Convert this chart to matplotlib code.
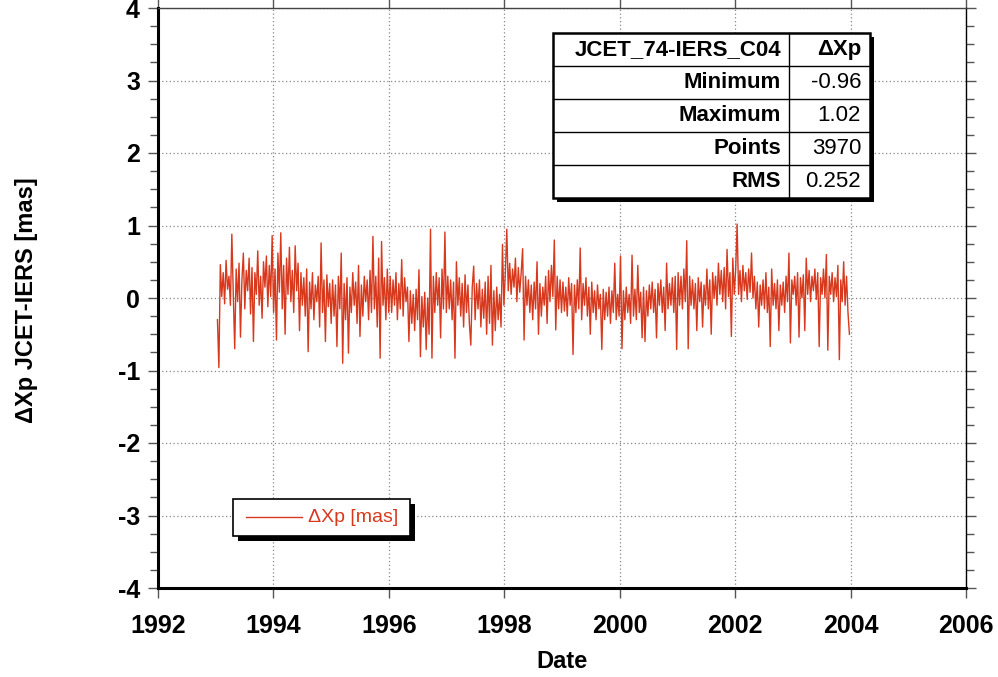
import numpy as np
import matplotlib
matplotlib.use('Agg')
import matplotlib.pyplot as plt
from matplotlib.patches import Rectangle
from matplotlib.lines import Line2D

plt.rcParams['font.family'] = ['Liberation Sans', 'DejaVu Sans']
plt.rcParams['axes.unicode_minus'] = False

# dXp JCET-IERS [mas], 40 values per year, 1993 -> 2004
dxp_1993 = [-0.30, -0.96, 0.46, 0.02, 0.35, -0.08, 0.52, 0.12, 0.30, -0.10, 0.88, 0.05, -0.70, 0.40, -0.05, 0.48, -0.54, 0.25, 0.62, -0.15,
            0.38, 0.10, 0.55, -0.22, 0.42, -0.60, 0.35, 0.05, 0.65, -0.10, 0.30, -0.28, 0.50, 0.15, 0.58, -0.12, 0.45, 0.02, 0.86, -0.20]
dxp_1994 = [0.40, -0.58, 0.62, 0.08, 0.90, -0.15, 0.45, -0.50, 0.55, 0.05, 0.70, -0.05, 0.38, -0.20, 0.72, 0.10, 0.48, -0.45, 0.35, -0.10,
            0.28, -0.25, 0.40, -0.74, 0.22, -0.15, 0.35, -0.30, 0.18, -0.05, 0.30, -0.40, 0.76, -0.20, 0.25, -0.60, 0.32, -0.12, 0.20, -0.35]
dxp_1995 = [0.25, -0.25, 0.18, -0.67, 0.30, -0.15, 0.62, -0.90, 0.20, -0.30, 0.28, -0.76, 0.15, -0.20, 0.35, -0.10, 0.22, -0.35, 0.45, -0.53,
            0.18, -0.25, 0.30, -0.05, 0.25, -0.30, 0.38, -0.20, 0.85, -0.15, 0.30, -0.40, 0.55, -0.83, 0.78, -0.10, 0.28, -0.30, 0.40, -0.20]
dxp_1996 = [0.30, -0.20, 0.25, -0.10, 0.35, -0.30, 0.20, -0.15, 0.53, -0.25, 0.28, -0.05, 0.15, -0.60, 0.10, -0.35, 0.05, -0.45, 0.12, -0.30,
            0.39, -0.81, 0.02, -0.40, 0.08, -0.71, 0.00, -0.50, 0.95, -0.83, 0.30, -0.20, 0.35, -0.10, 0.28, -0.55, 0.40, -0.15, 0.91, -0.20]
dxp_1997 = [0.30, -0.15, 0.25, -0.30, 0.22, -0.83, 0.50, -0.10, 0.28, -0.25, 0.20, -0.40, 0.32, -0.20, 0.18, -0.35, -0.65, 0.15, 0.44, -0.30,
            0.20, -0.15, 0.25, -0.40, 0.12, -0.28, 0.22, -0.50, 0.30, -0.35, 0.45, -0.65, 0.10, -0.45, 0.15, -0.30, 0.05, -0.40, 0.74, -0.10]
dxp_1998 = [0.35, 0.95, 0.10, 0.48, 0.05, 0.40, 0.15, 0.55, -0.05, 0.42, 0.08, 0.35, 0.68, -0.58, 0.30, -0.10, 0.25, -0.20, 0.18, -0.30,
            0.22, -0.15, 0.50, -0.50, 0.20, -0.25, 0.15, -0.10, 0.30, -0.35, 0.38, -0.05, 0.45, 0.02, 0.80, -0.44, 0.30, -0.15, 0.25, -0.20]
dxp_1999 = [0.22, -0.18, 0.15, -0.25, 0.28, -0.10, 0.20, -0.78, 0.18, -0.20, 0.25, -0.15, 0.69, -0.30, 0.20, -0.10, 0.28, -0.25, 0.15, -0.50,
            0.22, -0.20, 0.10, -0.30, 0.18, -0.15, 0.05, -0.71, 0.12, -0.30, 0.08, -0.25, 0.15, -0.35, 0.10, -0.20, 0.48, -0.30, 0.05, -0.25]
dxp_2000 = [0.58, -0.70, 0.10, -0.30, 0.15, -0.20, 0.05, -0.35, 0.59, -0.25, 0.12, -0.30, 0.45, -0.20, 0.08, -0.55, 0.15, -0.60, 0.10, -0.25,
            0.18, -0.15, 0.22, -0.20, 0.12, -0.55, 0.20, -0.10, 0.25, -0.20, 0.15, -0.45, 0.48, -0.15, 0.20, -0.10, 0.28, -0.20, 0.30, -0.71]
dxp_2001 = [0.35, -0.10, 0.30, -0.15, 0.40, -0.05, 0.79, -0.70, 0.30, -0.10, 0.25, -0.15, 0.20, -0.45, 0.28, -0.05, 0.22, -0.40, 0.18, -0.10,
            0.40, -0.15, 0.25, -0.50, 0.35, 0.00, 0.30, -0.10, 0.48, 0.05, 0.38, -0.05, 0.42, -0.15, 0.67, 0.02, 0.35, -0.53, 0.55, 0.05]
dxp_2002 = [0.40, 1.02, 0.05, 0.38, -0.05, 0.45, 0.10, 0.35, -0.02, 0.40, 0.08, 0.62, 0.00, 0.30, -0.15, 0.22, -0.40, 0.18, -0.10, 0.25,
            -0.15, 0.35, -0.20, 0.15, -0.67, 0.40, -0.10, 0.20, -0.15, 0.25, -0.45, 0.18, -0.10, 0.22, -0.20, 0.30, -0.05, 0.62, -0.62, 0.25]
dxp_2003 = [0.05, 0.30, -0.10, 0.35, -0.54, 0.28, 0.00, 0.32, -0.45, 0.55, 0.05, 0.38, -0.05, 0.30, 0.10, 0.40, -0.02, 0.35, -0.67, 0.28,
            0.05, 0.40, 0.00, 0.60, -0.72, 0.30, 0.05, 0.35, -0.05, 0.28, 0.02, 0.45, -0.85, 0.25, -0.05, 0.50, -0.10, 0.30, -0.20, -0.50]

dxp = (dxp_1993 + dxp_1994 + dxp_1995 + dxp_1996 + dxp_1997 + dxp_1998
       + dxp_1999 + dxp_2000 + dxp_2001 + dxp_2002 + dxp_2003)
dates = np.linspace(1993.03, 2003.98, len(dxp))

stat_names = ['Minimum', 'Maximum', 'Points', 'RMS']
stat_values = ['-0.96', '1.02', '3970', '0.252']
x_ticks = [1992, 1994, 1996, 1998, 2000, 2002, 2004, 2006]
y_ticks = [-4, -3, -2, -1, 0, 1, 2, 3, 4]

red = '#d8381c'
W, H = 998, 677

fig = plt.figure(figsize=(W / 100, H / 100), dpi=100)
ax = fig.add_axes([158 / W, 1 - 588 / H, (966 - 158) / W, (588 - 8) / H])

ax.plot(dates, dxp, color=red, lw=1.0)

ax.set_xlim(1992, 2006)
ax.set_ylim(-4, 4)
ax.set_xticks(x_ticks)
ax.set_yticks(y_ticks)
ax.set_yticks(np.arange(-4, 4.01, 0.25), minor=True)
ax.grid(True, which='major', color='#888888', ls=(0, (1, 2)), lw=0.9)
ax.tick_params(axis='both', which='both', direction='out', color='#555555', width=1)
ax.tick_params(axis='y', which='major', length=7, right=True, pad=6)
ax.tick_params(axis='y', which='minor', length=6, right=True)
ax.tick_params(axis='x', which='major', length=7, top=True, pad=12)
for lab in ax.get_xticklabels() + ax.get_yticklabels():
    lab.set_fontsize(18)
    lab.set_fontweight('bold')

ax.spines['left'].set_linewidth(2.2)
ax.spines['bottom'].set_linewidth(2.2)
ax.spines['right'].set_linewidth(1.0)
ax.spines['top'].set_linewidth(1.0)
ax.spines['top'].set_color('#444444')

fig.text(562 / W, 1 - 662 / H, 'Date', ha='center', va='center', fontsize=17, fontweight='bold')
fig.text(27 / W, 1 - 300 / H, 'ΔXp JCET-IERS [mas]', ha='center', va='center',
         rotation=90, fontsize=17, fontweight='bold')


def fx(x):
    return x / W


def fy(y):
    return 1 - y / H


# statistics table
tl, tr, tt, tb, tc = 553, 870, 33, 198, 789
fig.patches.append(Rectangle((fx(tl + 4), fy(tb + 4)), fx(tr - tl), (tb - tt) / H,
                             transform=fig.transFigure, facecolor='black', edgecolor='none', zorder=5))
fig.patches.append(Rectangle((fx(tl), fy(tb)), fx(tr - tl), (tb - tt) / H,
                             transform=fig.transFigure, facecolor='white', edgecolor='black', lw=1.8, zorder=6))
row_h = (tb - tt) / 5
for i in range(1, 5):
    yy = tt + i * row_h
    fig.lines.append(Line2D([fx(tl), fx(tr)], [fy(yy), fy(yy)], transform=fig.transFigure,
                            color='black', lw=1.0, zorder=7))
fig.lines.append(Line2D([fx(tc), fx(tc)], [fy(tt), fy(tb)], transform=fig.transFigure,
                        color='black', lw=1.0, zorder=7))
fig.text(fx(781), fy(tt + row_h / 2), 'JCET_74-IERS_C04', ha='right', va='center',
         fontsize=16, fontweight='bold', zorder=8)
fig.text(fx(861), fy(tt + row_h / 2), 'ΔXp', ha='right', va='center',
         fontsize=16, fontweight='bold', zorder=8)
for i, (name, val) in enumerate(zip(stat_names, stat_values)):
    yc = tt + (i + 1.5) * row_h
    fig.text(fx(781), fy(yc), name, ha='right', va='center', fontsize=16, fontweight='bold', zorder=8)
    fig.text(fx(861), fy(yc), val, ha='right', va='center', fontsize=16, zorder=8)

# legend box
ll, lr, lt, lb = 233, 410, 499, 536
fig.patches.append(Rectangle((fx(ll + 5), fy(lb + 5)), fx(lr - ll), (lb - lt) / H,
                             transform=fig.transFigure, facecolor='black', edgecolor='none', zorder=5))
fig.patches.append(Rectangle((fx(ll), fy(lb)), fx(lr - ll), (lb - lt) / H,
                             transform=fig.transFigure, facecolor='white', edgecolor='black', lw=1.2, zorder=6))
fig.lines.append(Line2D([fx(246), fx(302)], [fy(517), fy(517)], transform=fig.transFigure,
                        color=red, lw=1.0, zorder=7))
fig.text(fx(308), fy(517), 'ΔXp [mas]', ha='left', va='center', fontsize=14, color=red, zorder=8)

fig.savefig('out.png', dpi=100)
